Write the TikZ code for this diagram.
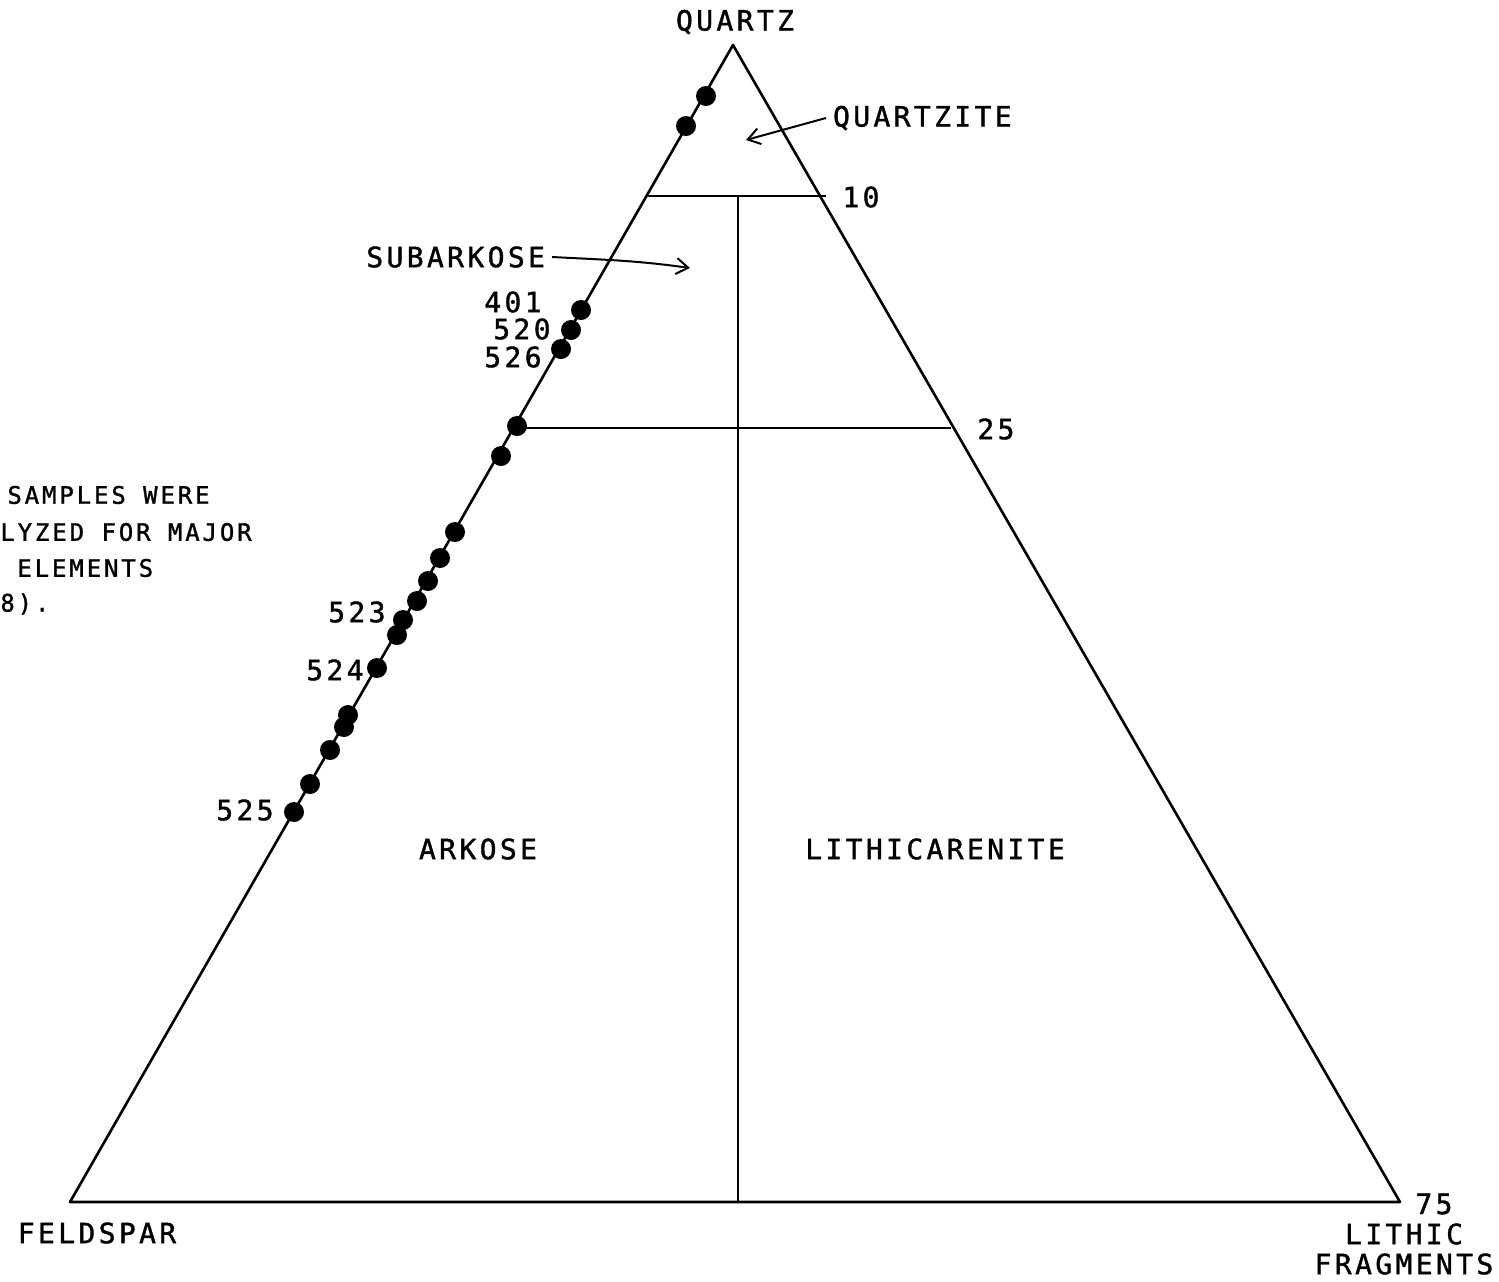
\documentclass[tikz,border=0pt]{standalone}
\usepackage{fontspec}
\newfontfamily\lblfont[LetterSpace=12, FakeBold=1.3]{DejaVu Sans Mono}
\usetikzlibrary{arrows.meta}
\tikzset{ lab/.style = { font = \lblfont\fontsize{14}{16}\selectfont % field and corner names
}
, smp/.style = { anchor = east % sample numbers
, inner sep = 1pt
, font = \lblfont\fontsize{14}{16}\selectfont
}
, dot/.style = { circle % plotted sample
, fill
, inner sep = 0pt
, minimum size = 10pt
}
, edge/.style = { line width = 1.3pt
, line join = round
}
, note/.style = { anchor = west
, inner sep = 0pt
, font = \lblfont\fontsize{12}{14}\selectfont
}
}

\begin{document}
\begin{tikzpicture}[x=0.5pt, y=-0.5pt]
\useasboundingbox (0,0) rectangle (1499,1281);

% corners of the diagram
\coordinate (Q) at (733,45);
\coordinate (F) at (70,1202);
\coordinate (L) at (1400,1202);
\draw[edge] (Q) -- (F) -- (L) -- cycle;

% field boundaries
\coordinate (a10) at (648,196);
\coordinate (b10) at (826,196);
\coordinate (a25) at (519,428);
\coordinate (b25) at (951,428);
\coordinate (v0) at (738,196);
\coordinate (v1) at (738,1202);
\draw[edge] (a10) -- (b10);
\draw[edge] (a25) -- (b25);
\draw[edge] (v0) -- (v1);

% percent marks
\node[lab, anchor=west, inner sep=0pt] (p10) at (842,197) {10};
\node[lab, anchor=west, inner sep=0pt] (p25) at (977,429) {25};
\node[lab, anchor=west, inner sep=0pt] (p75) at (1415,1204) {75};

% corner names
\node[lab] (quartz) at (735,22) {QUARTZ};
\node[lab] (feldspar) at (97,1233) {FELDSPAR};
\node[lab, align=center] (lithic) at (1404,1249) {LITHIC\\[-1pt]FRAGMENTS};

% field names
\node[lab] (arkose) at (478,849) {ARKOSE};
\node[lab] (litharen) at (935,849) {LITHICARENITE};
\node[lab, anchor=west] (qzite) at (826,118) {QUARTZITE};
\node[lab, anchor=east] (subark) at (552,257) {SUBARKOSE};
\coordinate (qtip) at (746,140);
\coordinate (stip) at (690,268);
\draw[line width=1pt, -{Straight Barb[length=6pt, width=8pt]}] (qzite.west) -- (qtip);
\draw[line width=1pt, -{Straight Barb[length=6pt, width=8pt]}] (subark.east) to[out=-3, in=172] (stip);

% plotted samples
\foreach[count=\n] \x/\y in { 706/96, 686/126, 581/310, 571/330, 561/349,
                              517/426, 501/456, 455/532, 440/558, 428/581,
                              417/601, 403/620, 397/635, 377/668, 348/715,
                              344/727, 330/750, 310/784, 294/812 }
  \node[dot] (s\n) at (\x,\y) {};

% sample numbers
\node[smp] at (544,302) {401};
\node[smp] at (553,329) {520};
\node[smp] at (544,357) {526};
\node[smp] at (388,612) {523};
\node[smp] at (366,670) {524};
\node[smp] at (276,810) {525};

% note at the left margin
\node[note] at (7,495) {SAMPLES WERE};
\node[note] at (0,532) {LYZED FOR MAJOR};
\node[note] at (17,568) {ELEMENTS};
\node[note] at (0,604) {8).};
\end{tikzpicture}
\end{document}
